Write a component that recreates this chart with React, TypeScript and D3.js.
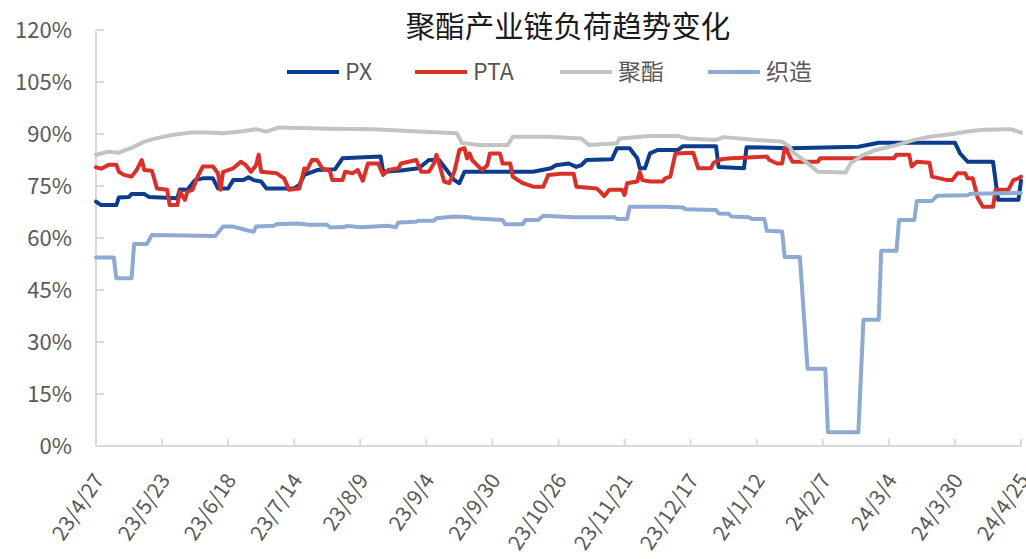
import React from "react";
import * as d3 from "d3";

// 聚酯产业链负荷 (%)
const pxData: [string, number][] = [
  ["23/4/27", 70.5], ["23/4/29", 69.5], ["23/5/5", 69.5], ["23/5/6", 71.7], ["23/5/10", 71.8],
  ["23/5/11", 72.7], ["23/5/16", 72.7], ["23/5/18", 71.8], ["23/5/29", 71.5], ["23/5/30", 74.0],
  ["23/6/2", 73.9], ["23/6/5", 76.7], ["23/6/8", 77.2], ["23/6/12", 77.2], ["23/6/14", 74.3],
  ["23/6/18", 74.3], ["23/6/20", 76.7], ["23/6/24", 76.7], ["23/6/26", 77.5], ["23/6/28", 76.7],
  ["23/7/1", 76.3], ["23/7/3", 74.3], ["23/7/14", 74.3], ["23/7/16", 75.3], ["23/7/18", 78.2],
  ["23/7/23", 79.6], ["23/7/30", 79.8], ["23/8/2", 83.0], ["23/8/17", 83.5], ["23/8/18", 79.1],
  ["23/8/25", 79.5], ["23/9/1", 80.1], ["23/9/5", 82.5], ["23/9/9", 82.5], ["23/9/12", 79.6],
  ["23/9/15", 76.7], ["23/9/17", 75.8], ["23/9/19", 79.1], ["23/10/16", 79.1], ["23/10/23", 80.1],
  ["23/10/25", 81.0], ["23/10/30", 81.5], ["23/11/2", 80.5], ["23/11/4", 81.0], ["23/11/6", 82.5],
  ["23/11/16", 82.7], ["23/11/18", 85.9], ["23/11/23", 85.9], ["23/11/26", 83.0], ["23/11/27", 80.1],
  ["23/11/29", 80.1], ["23/12/1", 84.4], ["23/12/4", 85.4], ["23/12/12", 85.4], ["23/12/14", 86.5],
  ["23/12/27", 86.5], ["23/12/28", 80.5], ["24/1/7", 80.1], ["24/1/8", 86.2], ["24/1/25", 85.9],
  ["24/2/21", 86.3], ["24/2/29", 87.5], ["24/3/30", 87.5], ["24/4/1", 84.4], ["24/4/4", 82.0],
  ["24/4/14", 82.0], ["24/4/16", 71.0], ["24/4/24", 71.0], ["24/4/25", 76.5],
];

const ptaData: [string, number][] = [
  ["23/4/27", 80.4], ["23/4/29", 80.0], ["23/5/2", 81.1], ["23/5/5", 81.1], ["23/5/6", 79.1],
  ["23/5/8", 78.2], ["23/5/11", 77.7], ["23/5/13", 79.6], ["23/5/15", 82.5], ["23/5/16", 79.6],
  ["23/5/19", 79.4], ["23/5/21", 74.3], ["23/5/25", 73.9], ["23/5/26", 69.5], ["23/5/29", 69.5],
  ["23/5/30", 73.4], ["23/6/1", 71.0], ["23/6/2", 73.4], ["23/6/4", 73.9], ["23/6/6", 77.7],
  ["23/6/8", 80.6], ["23/6/12", 80.6], ["23/6/14", 78.7], ["23/6/15", 73.9], ["23/6/16", 79.1],
  ["23/6/20", 80.1], ["23/6/23", 82.0], ["23/6/25", 81.0], ["23/6/27", 79.1], ["23/6/29", 81.0],
  ["23/6/30", 84.0], ["23/7/1", 79.1], ["23/7/7", 78.7], ["23/7/10", 77.2], ["23/7/12", 73.9],
  ["23/7/16", 74.3], ["23/7/18", 80.1], ["23/7/19", 79.6], ["23/7/21", 82.5], ["23/7/23", 82.5],
  ["23/7/25", 80.1], ["23/7/28", 79.4], ["23/7/29", 76.7], ["23/8/2", 76.7], ["23/8/3", 79.1],
  ["23/8/6", 78.7], ["23/8/8", 79.6], ["23/8/10", 76.5], ["23/8/12", 81.5], ["23/8/16", 81.5],
  ["23/8/18", 78.2], ["23/8/20", 79.6], ["23/8/24", 80.1], ["23/8/25", 81.5], ["23/8/31", 82.5],
  ["23/9/2", 79.1], ["23/9/5", 79.1], ["23/9/7", 81.5], ["23/9/8", 84.0], ["23/9/9", 81.5],
  ["23/9/11", 76.3], ["23/9/13", 75.8], ["23/9/15", 79.1], ["23/9/17", 85.4], ["23/9/19", 85.9],
  ["23/9/20", 83.0], ["23/9/21", 84.4], ["23/9/22", 82.5], ["23/9/24", 81.0], ["23/9/26", 79.6],
  ["23/9/28", 81.0], ["23/9/29", 84.4], ["23/10/3", 84.4], ["23/10/4", 81.5], ["23/10/7", 81.5],
  ["23/10/8", 77.7], ["23/10/10", 76.7], ["23/10/12", 75.8], ["23/10/16", 74.8], ["23/10/20", 74.8],
  ["23/10/22", 78.2], ["23/10/27", 78.5], ["23/11/1", 78.5], ["23/11/2", 74.8], ["23/11/10", 74.3],
  ["23/11/12", 72.9], ["23/11/13", 72.1], ["23/11/15", 73.9], ["23/11/20", 73.9], ["23/11/21", 72.4],
  ["23/11/22", 75.8], ["23/11/26", 76.3], ["23/11/27", 79.1], ["23/11/28", 76.7], ["23/12/1", 76.3],
  ["23/12/6", 76.3], ["23/12/7", 77.2], ["23/12/9", 77.7], ["23/12/11", 84.4], ["23/12/18", 84.6],
  ["23/12/20", 80.1], ["23/12/25", 80.1], ["23/12/26", 81.7], ["23/12/29", 82.7], ["24/1/2", 83.0],
  ["24/1/16", 83.5], ["24/1/17", 82.5], ["24/1/20", 81.5], ["24/1/22", 81.5], ["24/1/23", 86.0],
  ["24/1/24", 85.0], ["24/1/26", 82.0], ["24/2/5", 82.0], ["24/2/6", 83.0], ["24/3/6", 83.0],
  ["24/3/7", 84.0], ["24/3/12", 84.0], ["24/3/13", 80.6], ["24/3/15", 82.0], ["24/3/20", 81.7],
  ["24/3/21", 77.7], ["24/3/27", 76.7], ["24/3/29", 76.7], ["24/3/31", 78.7], ["24/4/3", 78.7],
  ["24/4/4", 77.2], ["24/4/6", 77.2], ["24/4/8", 71.5], ["24/4/10", 69.0], ["24/4/14", 69.0],
  ["24/4/15", 73.9], ["24/4/20", 73.9], ["24/4/22", 76.7], ["24/4/24", 77.2], ["24/4/25", 77.7],
];

const polyesterData: [string, number][] = [
  ["23/4/27", 84.0], ["23/5/2", 84.9], ["23/5/6", 84.6], ["23/5/11", 86.0], ["23/5/16", 87.8],
  ["23/5/21", 88.8], ["23/5/27", 89.7], ["23/6/3", 90.4], ["23/6/10", 90.4], ["23/6/16", 90.2],
  ["23/6/23", 90.7], ["23/6/29", 91.4], ["23/7/3", 90.7], ["23/7/8", 91.9], ["23/7/28", 91.5],
  ["23/8/14", 91.4], ["23/8/18", 91.2], ["23/9/1", 90.7], ["23/9/16", 90.2], ["23/9/18", 87.4],
  ["23/9/25", 86.8], ["23/10/6", 86.8], ["23/10/8", 89.2], ["23/10/22", 89.2], ["23/11/4", 88.7],
  ["23/11/7", 86.8], ["23/11/18", 87.3], ["23/11/19", 88.7], ["23/12/1", 89.4], ["23/12/12", 89.4],
  ["23/12/16", 88.7], ["23/12/27", 88.3], ["23/12/30", 89.1], ["24/1/12", 88.3], ["24/1/22", 87.8],
  ["24/1/25", 86.3], ["24/1/26", 84.9], ["24/2/1", 81.6], ["24/2/5", 79.1], ["24/2/16", 78.9],
  ["24/2/18", 81.6], ["24/2/23", 84.0], ["24/2/28", 85.4], ["24/3/7", 86.8], ["24/3/14", 88.3],
  ["24/3/20", 89.2], ["24/3/29", 90.0], ["24/4/4", 90.7], ["24/4/10", 91.2], ["24/4/21", 91.4],
  ["24/4/25", 90.4],
];

const weavingData: [string, number][] = [
  ["23/4/27", 54.4], ["23/5/4", 54.4], ["23/5/5", 48.4], ["23/5/11", 48.4], ["23/5/12", 58.3],
  ["23/5/17", 58.3], ["23/5/19", 60.9], ["23/6/13", 60.6], ["23/6/16", 63.3], ["23/6/20", 63.3],
  ["23/6/25", 62.3], ["23/6/28", 61.8], ["23/6/29", 63.3], ["23/7/6", 63.5], ["23/7/7", 64.0],
  ["23/7/15", 64.2], ["23/7/20", 63.8], ["23/7/27", 63.8], ["23/7/28", 63.1], ["23/8/2", 63.1],
  ["23/8/4", 63.5], ["23/8/9", 63.1], ["23/8/20", 63.5], ["23/8/23", 63.1], ["23/8/24", 64.5],
  ["23/8/31", 64.7], ["23/9/1", 65.0], ["23/9/7", 65.0], ["23/9/8", 65.7], ["23/9/15", 66.2],
  ["23/9/21", 66.0], ["23/9/22", 65.7], ["23/9/29", 65.4], ["23/10/4", 65.2], ["23/10/5", 64.0],
  ["23/10/12", 64.0], ["23/10/13", 65.2], ["23/10/18", 65.2], ["23/10/20", 66.4], ["23/11/1", 66.0],
  ["23/11/17", 66.0], ["23/11/18", 65.5], ["23/11/22", 65.5], ["23/11/23", 69.0], ["23/12/7", 69.0],
  ["23/12/14", 68.8], ["23/12/15", 68.3], ["23/12/27", 68.1], ["23/12/28", 67.1], ["24/1/1", 67.0],
  ["24/1/2", 66.2], ["24/1/9", 66.0], ["24/1/10", 65.5], ["24/1/15", 65.5], ["24/1/16", 62.1],
  ["24/1/22", 61.9], ["24/1/23", 54.5], ["24/1/29", 54.5], ["24/2/1", 22.3], ["24/2/8", 22.3],
  ["24/2/9", 4.0], ["24/2/21", 4.0], ["24/2/23", 36.4], ["24/2/29", 36.4], ["24/3/1", 56.3],
  ["24/3/7", 56.3], ["24/3/8", 65.2], ["24/3/14", 65.2], ["24/3/15", 70.7], ["24/3/21", 70.7],
  ["24/3/23", 72.2], ["24/4/4", 72.3], ["24/4/5", 72.8], ["24/4/25", 73.0],
];

const seriesNames = ["PX", "PTA", "聚酯", "织造"];
const seriesColors = ["#0b3d8c", "#d9302a", "#c3c3c3", "#8eaad2"];
const seriesData = [pxData, ptaData, polyesterData, weavingData];

const xTickLabels = [
  "23/4/27", "23/5/23", "23/6/18", "23/7/14", "23/8/9", "23/9/4", "23/9/30", "23/10/26",
  "23/11/21", "23/12/17", "24/1/12", "24/2/7", "24/3/4", "24/3/30", "24/4/25",
];
const yTicks = [0, 15, 30, 45, 60, 75, 90, 105, 120];

const W = 1026;
const H = 559;
const margin = { top: 30, right: 5, bottom: 113, left: 96 };
const FONT = "'Noto Sans CJK SC', 'Noto Sans', sans-serif";
const AXIS = "#d9d9d9";
const TEXT = "#595959";

const parse = d3.utcParse("%y/%m/%d");

export default function App() {
  const x = d3
    .scaleUtc()
    .domain([parse(xTickLabels[0])!, parse(xTickLabels[xTickLabels.length - 1])!])
    .range([margin.left, W - margin.right]);
  const y = d3.scaleLinear().domain([0, 120]).range([H - margin.bottom, margin.top]);

  const line = d3
    .line<[string, number]>()
    .x((d) => x(parse(d[0])!))
    .y((d) => y(d[1]));

  const legendX = [287, 415, 560, 708];
  const y0 = y(0);

  return (
    <svg
      width={W}
      height={H}
      style={{ position: "absolute", left: 0, top: 0, background: "#fff" }}
      fontFamily={FONT}
    >
      {/* title */}
      <text x={568} y={37} textAnchor="middle" fontSize={29.5} fill="#1a1a1a">
        聚酯产业链负荷趋势变化
      </text>

      {/* legend */}
      {seriesNames.map((name, i) => (
        <g key={name} transform={`translate(${legendX[i]},72)`}>
          <line x1={0} x2={52} y1={0} y2={0} stroke={seriesColors[i]} strokeWidth={4} />
          <text x={58} y={8} fontSize={23} fill={TEXT}>
            {name}
          </text>
        </g>
      ))}

      {/* y axis */}
      <line x1={margin.left} x2={margin.left} y1={y(120)} y2={y0} stroke={AXIS} strokeWidth={2} />
      {yTicks.map((t) => (
        <g key={t}>
          <line x1={margin.left} x2={margin.left + 8} y1={y(t)} y2={y(t)} stroke={AXIS} strokeWidth={2} />
          <text x={72} y={y(t) + 8} textAnchor="end" fontSize={22} fill={TEXT}>
            {t}%
          </text>
        </g>
      ))}

      {/* x axis */}
      <line x1={margin.left} x2={W - margin.right} y1={y0} y2={y0} stroke={AXIS} strokeWidth={2} />
      {xTickLabels.map((lbl) => {
        const px = x(parse(lbl)!);
        return (
          <g key={lbl}>
            <line x1={px} x2={px} y1={y0} y2={y0 - 7} stroke={AXIS} strokeWidth={2} />
            <text
              transform={`translate(${px + 9},${y0 + 34}) rotate(-56)`}
              textAnchor="end"
              fontSize={21}
              fill={TEXT}
            >
              {lbl}
            </text>
          </g>
        );
      })}

      {/* series */}
      {seriesData.map((data, i) => (
        <path
          key={seriesNames[i]}
          d={line(data) ?? ""}
          fill="none"
          stroke={seriesColors[i]}
          strokeWidth={4}
          strokeLinejoin="round"
          strokeLinecap="round"
        />
      ))}
    </svg>
  );
}
